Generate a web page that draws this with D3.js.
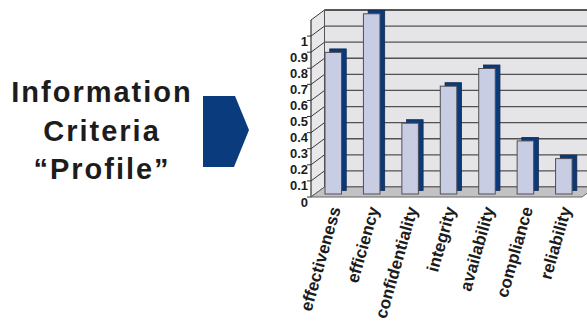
<!DOCTYPE html>
<html>
<head>
<meta charset="utf-8">
<script src="https://cdn.jsdelivr.net/npm/d3@7/dist/d3.min.js"></script>
<style>
  html, body { margin: 0; padding: 0; background: #ffffff; }
  svg { display: block; font-family: "Liberation Sans", Arial, sans-serif; }
</style>
</head>
<body>
<svg id="chart" width="587" height="323"></svg>
<script>
// Information criteria profile values
const categories = ["effectiveness", "efficiency", "confidentiality", "integrity",
                    "availability", "compliance", "reliability"];
const scores = [0.88, 1.12, 0.44, 0.67, 0.78, 0.33, 0.22];
const tickValues = [0, 0.1, 0.2, 0.3, 0.4, 0.5, 0.6, 0.7, 0.8, 0.9, 1];
const gridValues = [0, 0.1, 0.2, 0.3, 0.4, 0.5, 0.6, 0.7, 0.8, 0.9, 1, 1.1];
const titleLines = ["Information", "Criteria", "\u201CProfile\u201D"];

const svg = d3.select("#chart");

// ---- title block with arrow ----
const title = svg.append("g");
title.selectAll("text")
  .data(titleLines)
  .join("text")
  .attr("x", 102)
  .attr("y", (d, i) => 102 + i * 38.5)
  .attr("text-anchor", "middle")
  .attr("font-size", 29)
  .attr("font-weight", "bold")
  .attr("letter-spacing", 2)
  .attr("fill", "#1c1c1c")
  .text(d => d);

title.append("path")
  .attr("d", "M203,96 L235,96 L249,130 L234,167 L203,167 Z")
  .attr("fill", "#0a3c7d");

// ---- 3D chart frame ----
const depth = { dx: 13.5, dy: -10 };        // front -> back wall offset
const frontLeft = 311, frontRight = 582;

const x = d3.scaleBand()
  .domain(categories)
  .range([frontLeft - 1, frontRight - 3])
  .paddingInner(0.57)
  .paddingOuter(0.285);

const y = d3.scaleLinear()
  .domain([0, 1.1])
  .range([197, 20]);

const chart = svg.append("g");

const yTop = y(1.1), yFloor = y(0);
const backX0 = frontLeft + depth.dx;

// back wall
chart.append("rect")
  .attr("x", backX0)
  .attr("y", yTop + depth.dy)
  .attr("width", 600 - backX0)
  .attr("height", yFloor - yTop)
  .attr("fill", "#e5e5e7");

// left side wall
chart.append("path")
  .attr("d", `M${frontLeft},${yTop} L${backX0},${yTop + depth.dy} L${backX0},${yFloor + depth.dy} L${frontLeft},${yFloor} Z`)
  .attr("fill", "#e8e8ea");

// grid lines on back wall and side wall
const grid = chart.append("g").attr("fill", "none");
grid.selectAll("line.back")
  .data(gridValues)
  .join("line")
  .attr("class", "back")
  .attr("x1", backX0)
  .attr("x2", 600)
  .attr("y1", d => y(d) + depth.dy)
  .attr("y2", d => y(d) + depth.dy)
  .attr("stroke", (d, i) => i === gridValues.length - 1 ? "#222" : "#525252")
  .attr("stroke-width", (d, i) => i === gridValues.length - 1 ? 1.6 : 1.3);

grid.selectAll("line.side")
  .data(gridValues)
  .join("line")
  .attr("class", "side")
  .attr("x1", frontLeft)
  .attr("x2", backX0)
  .attr("y1", d => y(d))
  .attr("y2", d => y(d) + depth.dy)
  .attr("stroke", "#3a3a3a")
  .attr("stroke-width", 1);

// corner edges
chart.append("line")
  .attr("x1", backX0).attr("x2", backX0)
  .attr("y1", yTop + depth.dy).attr("y2", yFloor + depth.dy)
  .attr("stroke", "#555").attr("stroke-width", 1);
chart.append("line")
  .attr("x1", frontLeft).attr("x2", frontLeft)
  .attr("y1", yTop).attr("y2", yFloor)
  .attr("stroke", "#333").attr("stroke-width", 1.2);

// floor
chart.append("path")
  .attr("d", `M${frontLeft},${yFloor} L${frontRight},${yFloor} L${frontRight + depth.dx},${yFloor + depth.dy} L${backX0},${yFloor + depth.dy} Z`)
  .attr("fill", "#c2c2c4")
  .attr("stroke", "#666")
  .attr("stroke-width", 1);

// tick marks and labels on the front edge
const axis = chart.append("g");
axis.selectAll("line")
  .data(tickValues)
  .join("line")
  .attr("x1", frontLeft - 4)
  .attr("x2", frontLeft)
  .attr("y1", d => y(d))
  .attr("y2", d => y(d))
  .attr("stroke", "#333");
axis.selectAll("text")
  .data(tickValues)
  .join("text")
  .attr("x", frontLeft - 3)
  .attr("y", d => y(d) + 5)
  .attr("dy", "0.35em")
  .attr("text-anchor", "end")
  .attr("font-size", 13)
  .attr("font-weight", "bold")
  .attr("fill", "#1c1c1c")
  .text(d => String(+d.toFixed(1)));

// bars: dark rear face, then light front face
const frontF = 0.3, backF = 0.65;
const bars = chart.append("g");
const data = categories.map((c, i) => ({ c, v: scores[i] }));

bars.selectAll("rect.rear")
  .data(data)
  .join("rect")
  .attr("class", "rear")
  .attr("x", d => x(d.c) + depth.dx * backF)
  .attr("y", d => y(d.v) + depth.dy * backF)
  .attr("width", x.bandwidth())
  .attr("height", d => y(0) - y(d.v))
  .attr("fill", "#0b3a7a")
  .attr("stroke", "#142a50")
  .attr("stroke-width", 0.8);

bars.selectAll("rect.front")
  .data(data)
  .join("rect")
  .attr("class", "front")
  .attr("x", d => x(d.c) + depth.dx * frontF)
  .attr("y", d => y(d.v) + depth.dy * frontF)
  .attr("width", x.bandwidth())
  .attr("height", d => y(0) - y(d.v))
  .attr("fill", "#c9cde3")
  .attr("stroke", "#4f4f55")
  .attr("stroke-width", 1);

// rotated category labels
chart.append("g")
  .selectAll("text")
  .data(categories)
  .join("text")
  .attr("transform", d => `translate(${x(d) + x.bandwidth() / 2 + 6},${207}) rotate(-74)`)
  .attr("dy", "0.35em")
  .attr("text-anchor", "end")
  .attr("font-size", 17)
  .attr("font-weight", "bold")
  .attr("fill", "#1c1c1c")
  .text(d => d);
</script>
</body>
</html>
